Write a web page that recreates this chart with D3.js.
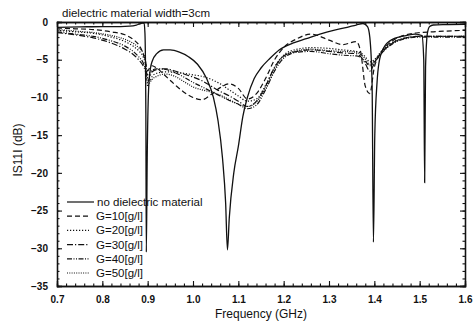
<!DOCTYPE html>
<html>
<head>
<meta charset="utf-8">
<script src="https://cdn.jsdelivr.net/npm/d3@7"></script>
<style>
  body { margin:0; background:#fff; }
  text { font-family: "Liberation Sans", Arial, sans-serif; fill:#111; }
</style>
</head>
<body>
<div id="chart"></div>
<script>
// data
const freqSolid = [0.70,0.75,0.80,0.84,0.86,0.875,0.885,0.892,0.894,0.896,0.897,0.899,0.902,0.906,0.91,0.92,0.935,0.95,0.97,0.99,1.01,1.03,1.045,1.055,1.065,1.072,1.076,1.080,1.09,1.10,1.11,1.12,1.135,1.15,1.17,1.19,1.22,1.25,1.28,1.31,1.34,1.36,1.375,1.385,1.39,1.395,1.398,1.401,1.406,1.41,1.42,1.44,1.47,1.49,1.505,1.509,1.511,1.513,1.517,1.522,1.53,1.56,1.60];
const s11Solid  = [-0.7,-0.65,-0.6,-0.6,-0.55,-0.4,-0.2,-0.1,-1.5,-12,-30.5,-18,-9,-6.2,-5.2,-4.2,-3.7,-3.7,-4.0,-4.6,-5.6,-7.5,-10,-13,-18,-24,-30.2,-26,-20,-16.5,-12.5,-10,-7.5,-6.1,-4.8,-3.7,-2.8,-2.2,-1.6,-1.1,-0.7,-0.4,-0.2,-0.6,-2,-8,-29.2,-15,-8,-5.5,-3.5,-2.3,-1.8,-1.6,-1.8,-5,-21.3,-6,-1.5,-0.6,-0.4,-0.35,-0.3];

const freqG = [0.70,0.74,0.78,0.82,0.85,0.87,0.88,0.89,0.895,0.90,0.905,0.91,0.92,0.94,0.96,0.98,1.00,1.02,1.04,1.06,1.08,1.10,1.12,1.14,1.16,1.18,1.20,1.23,1.26,1.30,1.33,1.36,1.37,1.38,1.39,1.40,1.41,1.42,1.44,1.47,1.50,1.53,1.56,1.60];
const s11G10 = [-0.8,-0.9,-1.0,-1.3,-1.7,-2.4,-3.0,-4.2,-5.2,-6.5,-6.0,-5.8,-6.1,-7.2,-8.3,-9.3,-10.0,-10.3,-9.6,-8.7,-8.2,-8.8,-10.2,-9.5,-7.5,-5.0,-3.4,-2.2,-1.6,-2.4,-3.0,-2.6,-4.0,-8.5,-9.5,-6.0,-4.5,-3.6,-2.5,-1.7,-1.4,-1.3,-1.2,-1.1];
const s11G20 = [-1.1,-1.3,-1.5,-2.0,-2.6,-3.3,-3.8,-4.6,-5.5,-7.5,-7.8,-7.2,-6.8,-6.6,-6.7,-6.8,-7.0,-7.2,-7.6,-8.2,-9.0,-9.8,-10.5,-10.2,-8.4,-6.0,-4.4,-3.6,-3.4,-3.5,-3.7,-3.9,-4.1,-4.6,-5.3,-5.0,-4.3,-3.6,-2.7,-2.1,-1.9,-1.9,-1.9,-1.9];
const s11G30 = [-1.4,-1.7,-2.1,-2.8,-3.6,-4.4,-5.0,-5.8,-6.5,-8.0,-7.2,-6.6,-6.3,-6.2,-6.5,-6.9,-7.3,-7.8,-8.5,-9.2,-9.8,-10.5,-11.2,-10.5,-8.5,-6.0,-4.5,-3.9,-3.7,-3.9,-4.1,-4.2,-4.6,-5.5,-6.5,-5.5,-4.5,-3.8,-2.8,-2.1,-1.9,-1.9,-1.9,-1.9];
const s11G40 = [-1.3,-1.6,-1.9,-2.5,-3.2,-4.0,-4.6,-5.4,-6.2,-7.0,-6.7,-6.4,-6.2,-6.3,-6.7,-7.3,-8.0,-8.6,-9.2,-9.8,-10.4,-10.9,-11.5,-11.0,-9.0,-6.5,-4.8,-4.0,-3.9,-4.2,-4.4,-4.5,-4.7,-5.2,-5.8,-5.3,-4.6,-3.9,-2.9,-2.2,-2.0,-2.0,-2.0,-2.0];
const s11G50 = [-1.0,-1.2,-1.4,-1.8,-2.3,-2.9,-3.4,-4.1,-5.0,-8.5,-8.0,-7.6,-7.2,-6.9,-7.2,-7.9,-8.6,-9.0,-9.3,-9.7,-10.3,-10.9,-11.2,-10.6,-8.8,-6.3,-4.6,-3.8,-3.6,-3.8,-3.9,-4.0,-4.3,-4.9,-5.6,-5.2,-4.4,-3.7,-2.8,-2.1,-1.9,-1.9,-1.9,-1.9];

const legendLabels = ["no dielectric material","G=10[g/l]","G=20[g/l]","G=30[g/l]","G=40[g/l]","G=50[g/l]"];
const xTicks = [0.7,0.8,0.9,1.0,1.1,1.2,1.3,1.4,1.5,1.6];
const yTicks = [0,-5,-10,-15,-20,-25,-30,-35];

const margin = {top:22, right:10, bottom:39, left:57};
const width = 475 - margin.left - margin.right;
const height = 325 - margin.top - margin.bottom;

const svg = d3.select("#chart").append("svg")
  .attr("width", 475).attr("height", 325);

const g = svg.append("g")
  .attr("transform", "translate(" + margin.left + "," + margin.top + ")");

const x = d3.scaleLinear().domain([0.7,1.6]).range([0,width]);
const y = d3.scaleLinear().domain([-35,0]).range([height,0]);

const dashes = ["none","5,3","1.2,1.8","6,2,1.2,2","5,1.5,1,1.5,1,1.5","1,1.3"];

const series = [
  {name:legendLabels[0], f:freqSolid, v:s11Solid},
  {name:legendLabels[1], f:freqG, v:s11G10},
  {name:legendLabels[2], f:freqG, v:s11G20},
  {name:legendLabels[3], f:freqG, v:s11G30},
  {name:legendLabels[4], f:freqG, v:s11G40},
  {name:legendLabels[5], f:freqG, v:s11G50}
];

svg.append("defs").append("clipPath").attr("id","clip")
  .append("rect").attr("width", width).attr("height", height);

const line = d3.line()
  .curve(d3.curveMonotoneX)
  .x(function(d){return x(d[0]);})
  .y(function(d){return y(d[1]);});

g.append("g").attr("clip-path","url(#clip)")
  .selectAll("path").data(series).enter()
  .append("path")
    .attr("d", function(d){ return line(d.f.map(function(f,i){return [f,d.v[i]];})); })
    .attr("fill","none")
    .attr("stroke","#111")
    .attr("stroke-width", function(d,i){ return i==0 ? 1.3 : 1.2; })
    .attr("stroke-dasharray", function(d,i){ return dashes[i]; });

// axes: ticks point inward on all four sides
const xMinor = d3.range(0.7, 1.6001, 0.02);
const yMinor = d3.range(-35, 0.001, 1);

function styleAxis(sel){
  sel.select(".domain").attr("stroke","#111").attr("stroke-width",1.3);
  sel.selectAll(".tick line").attr("stroke","#111").attr("stroke-width",1.1);
}

g.append("g").attr("transform","translate(0," + height + ")")
  .call(d3.axisBottom(x).tickValues(xMinor).tickSize(-2.5).tickFormat(""))
  .call(styleAxis);
g.append("g").attr("transform","translate(0," + height + ")")
  .call(d3.axisBottom(x).tickValues(xTicks).tickSize(-5).tickPadding(10).tickFormat(d3.format(".1f")))
  .call(styleAxis)
  .selectAll("text").style("font-size","10px").style("font-weight","bold");

g.append("g")
  .call(d3.axisTop(x).tickValues(xMinor).tickSize(-2.5).tickFormat(""))
  .call(styleAxis);
g.append("g")
  .call(d3.axisTop(x).tickValues(xTicks).tickSize(-5).tickFormat(""))
  .call(styleAxis);

g.append("g")
  .call(d3.axisLeft(y).tickValues(yMinor).tickSize(-2.5).tickFormat(""))
  .call(styleAxis);
g.append("g")
  .call(d3.axisLeft(y).tickValues(yTicks).tickSize(-5).tickPadding(9).tickFormat(d3.format("d")))
  .call(styleAxis)
  .selectAll("text").style("font-size","10px").style("font-weight","bold");

g.append("g").attr("transform","translate(" + width + ",0)")
  .call(d3.axisRight(y).tickValues(yMinor).tickSize(-2.5).tickFormat(""))
  .call(styleAxis);
g.append("g").attr("transform","translate(" + width + ",0)")
  .call(d3.axisRight(y).tickValues(yTicks).tickSize(-5).tickFormat(""))
  .call(styleAxis);

// titles
svg.append("text")
  .attr("x", 62).attr("y", 17)
  .style("font-size","11.5px")
  .text("dielectric material width=3cm");

svg.append("text")
  .attr("x", margin.left + width/2).attr("y", 318)
  .attr("text-anchor","middle")
  .style("font-size","12px")
  .text("Frequency (GHz)");

svg.append("text")
  .attr("transform","translate(22,150) rotate(-90)")
  .attr("text-anchor","middle")
  .style("font-size","12px")
  .text("IS11I (dB)");

// legend
const legend = g.append("g").attr("transform","translate(10,180)")
  .selectAll("g").data(series).enter()
  .append("g")
    .attr("transform", function(d,i){ return "translate(0," + (i*14.2) + ")"; });

legend.append("line")
  .attr("x1",0).attr("x2", function(d,i){ return i==0 ? 27 : 22; })
  .attr("stroke","#111").attr("stroke-width",1.2)
  .attr("stroke-dasharray", function(d,i){ return dashes[i]; });

legend.append("text")
  .attr("x", function(d,i){ return i==0 ? 30 : 29; })
  .attr("dy","0.35em")
  .style("font-size","11.5px")
  .text(function(d){ return d.name; });
</script>
</body>
</html>
